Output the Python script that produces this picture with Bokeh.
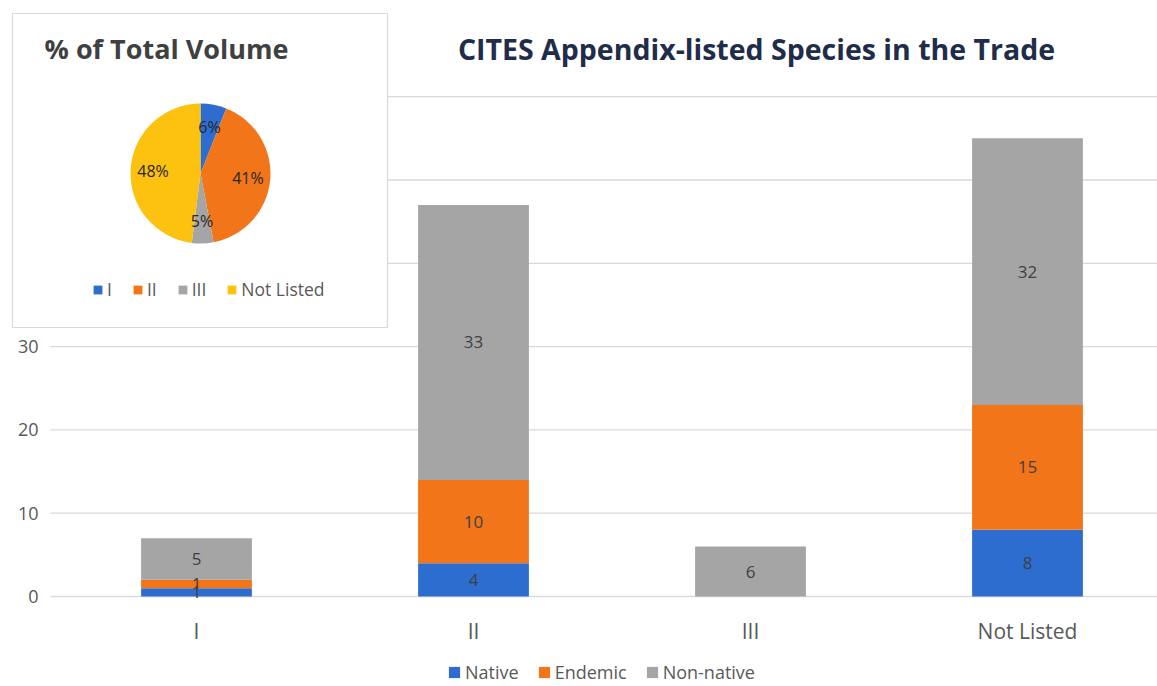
import numpy as np
from bokeh.plotting import figure
from bokeh.models import (Range1d, ColumnDataSource, Legend, LegendItem, Label)
from bokeh.core.properties import value
from bokeh.embed import file_html
from bokeh.resources import INLINE

# ---------------- data ----------------
categories = ["I", "II", "III", "Not Listed"]
native = [1, 4, 0, 8]
endemic = [1, 10, 0, 15]
non_native = [5, 33, 6, 32]
series_names = ["Native", "Endemic", "Non-native"]
y_ticks = [0, 10, 20, 30, 40, 50, 60]

pie_labels = ["I", "II", "III", "Not Listed"]
pie_values = [6, 41, 5, 48]

main_title = "CITES Appendix-listed Species in the Trade"
inset_title = "% of Total Volume"

# ---------------- styling ----------------
BLUE = "#2E6DD0"
ORANGE = "#F2751A"
GRAY = "#A5A5A5"
YELLOW = "#FCC20F"
FONT = "Open Sans"
TXT = "#404040"
AX = "#595959"

W, H = 1157, 686
PX_PER_X = 277.0
PX_PER_Y = 8.33
X0_PX = 196.0
Y0_PX = 596.0


def xd(px):
    return (px - X0_PX) / PX_PER_X


def yd(py):
    return (Y0_PX - py) / PX_PER_Y


p = figure(width=W, height=H, output_backend="svg", toolbar_location=None,
           x_range=Range1d(xd(0), xd(W)), y_range=Range1d(yd(H), yd(0)),
           x_axis_location=None, y_axis_location=None,
           min_border_left=0, min_border_right=0, min_border_top=0,
           min_border_bottom=0)
p.outline_line_color = None
p.grid.visible = False
p.background_fill_color = "white"
p.border_fill_color = "white"

# gridlines
p.segment(x0=[xd(50)] * len(y_ticks), x1=[xd(W)] * len(y_ticks), y0=y_ticks, y1=y_ticks,
          line_color="#D9D9D9", line_width=1.3)

# y tick labels
p.text(x=[xd(38)] * len(y_ticks), y=y_ticks, text=[str(t) for t in y_ticks],
       text_align="right", text_baseline="middle", text_font=value(FONT),
       text_font_size="18px", text_color=AX)

# stacked bars
xs = list(range(len(categories)))
src = ColumnDataSource(dict(x=xs, Native=native, Endemic=endemic, **{"Non-native": non_native}))
bar_rs = p.vbar_stack(series_names, x="x", width=0.4, source=src,
                      color=[BLUE, ORANGE, GRAY], line_color=None)

# data labels
lx, ly, lt = [], [], []
for i in xs:
    base = 0
    for vals in (native, endemic, non_native):
        v = vals[i]
        if v > 0:
            lx.append(i)
            ly.append(base + v / 2.0)
            lt.append(str(v))
        base += v
p.text(x=lx, y=ly, text=lt, text_align="center", text_baseline="middle",
       text_font=value(FONT), text_font_size="17px", text_color=TXT)

# category (x axis) labels
p.text(x=xs, y=[yd(630)] * len(xs), text=categories, text_align="center",
       text_baseline="middle", text_font=value(FONT), text_font_size="21px",
       text_color=AX)

# main title
p.add_layout(Label(x=xd(756), y=yd(48), text=main_title, text_align="center",
                   text_baseline="middle", text_font=FONT, text_font_size="28.5px",
                   text_font_style="bold", text_color="#1F2D4A"))

# ---------------- inset pie ----------------
p.quad(left=[xd(12)], right=[xd(387)], bottom=[yd(327)], top=[yd(13)],
       fill_color="white", line_color="#D9D9D9", line_width=1.2)

p.text(x=[xd(166)], y=[yd(48)], text=[inset_title], text_align="center",
       text_baseline="middle", text_font=value(FONT), text_font_size="27px",
       text_font_style="bold", text_color=TXT)

vals = np.array(pie_values, dtype=float)
fr = vals / vals.sum()
c1 = np.cumsum(fr)
c0 = c1 - fr
start = np.pi / 2 - 2 * np.pi * c0
end = np.pi / 2 - 2 * np.pi * c1
mid = (start + end) / 2
R = 70
pcx, pcy = xd(200), yd(173)
psrc = ColumnDataSource(dict(x=[pcx] * 4, y=[pcy] * 4, start=start, end=end,
                             color=[BLUE, ORANGE, GRAY, YELLOW], label=pie_labels,
                             txt=[f"{v}%" for v in pie_values],
                             xo=0.68 * R * np.cos(mid), yo=-0.68 * R * np.sin(mid)))
wr = p.wedge(x="x", y="y", radius=R, radius_units="screen", start_angle="start",
             end_angle="end", direction="clock", fill_color="color", line_color=None,
             source=psrc)
p.text(x="x", y="y", text="txt", x_offset="xo", y_offset="yo", source=psrc,
       text_align="center", text_baseline="middle", text_font=value(FONT),
       text_font_size="16px", text_color="#262626")

pie_leg = Legend(items=[LegendItem(label=lab, renderers=[wr], index=i)
                        for i, lab in enumerate(pie_labels)],
                 orientation="horizontal", location=(92, H - 301),
                 glyph_width=11, glyph_height=11, label_width=0, label_height=18,
                 label_text_font=FONT, label_text_font_size="17.5px",
                 label_text_color=AX, label_standoff=4, spacing=20,
                 padding=0, margin=0, background_fill_alpha=0, border_line_color=None)
p.add_layout(pie_leg)

# ---------------- bottom legend ----------------
bar_leg = Legend(items=[LegendItem(label=n, renderers=[r]) for n, r in zip(series_names, bar_rs)],
                 orientation="horizontal", location=(447, 2),
                 glyph_width=14, glyph_height=14, label_width=0, label_height=16,
                 label_text_font=FONT, label_text_font_size="18px",
                 label_text_color=AX, label_standoff=4, spacing=18,
                 padding=0, margin=0, background_fill_alpha=0, border_line_color=None)
p.add_layout(bar_leg)

open("out.html", "w").write(file_html(p, INLINE))
